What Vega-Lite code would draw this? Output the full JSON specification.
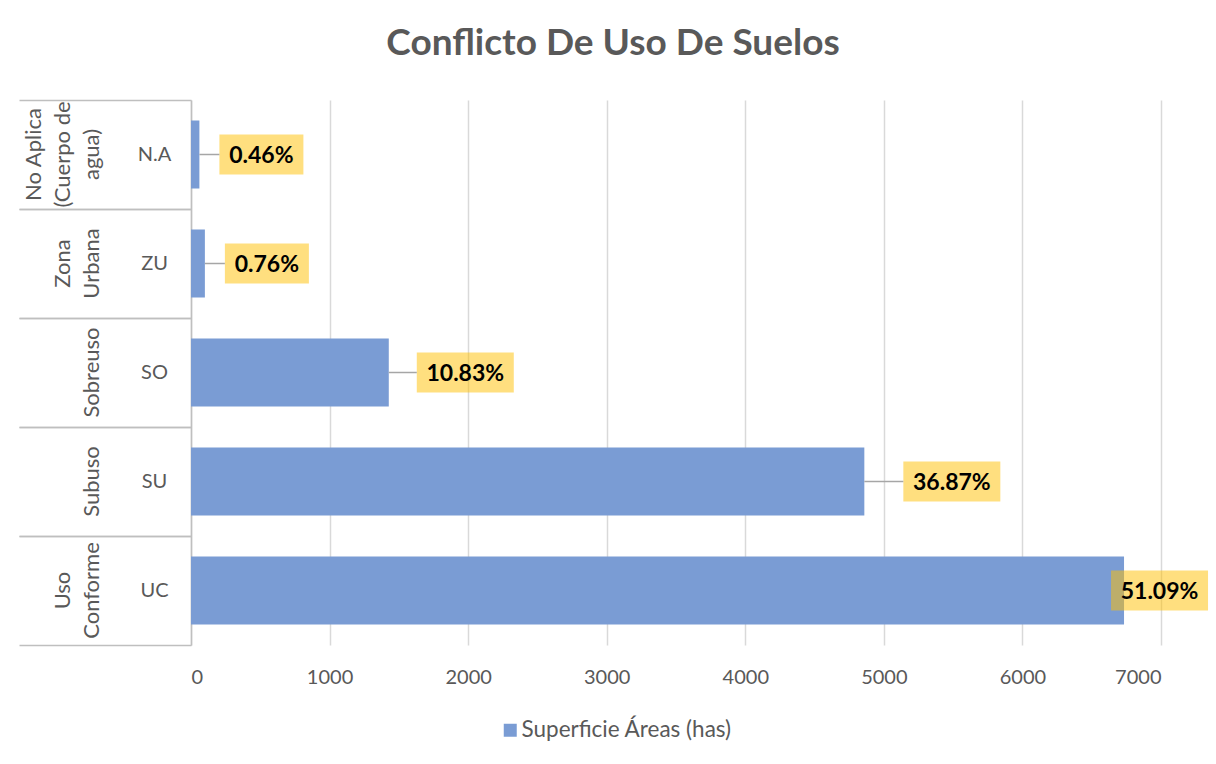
{
  "$schema": "https://vega.github.io/schema/vega-lite/v6.json",
  "width": 970,
  "height": 545,
  "autosize": {"type": "none"},
  "padding": {"left": 191, "top": 100, "right": 55, "bottom": 119},
  "background": "white",
  "config": {"view": {"stroke": null}, "font": "Lato"},
  "title": {"text": "Conflicto De Uso De Suelos", "font": "Lato", "fontSize": 37, "fontWeight": "bold", "color": "#595959", "anchor": "middle", "frame": "group", "dx": -63, "offset": 36},
  "data": {"values": [
    {"code": "N.A", "area": 60.6, "pct": "0.46%", "serie": "Superficie Áreas (has)"},
    {"code": "ZU", "area": 100.2, "pct": "0.76%", "serie": "Superficie Áreas (has)"},
    {"code": "SO", "area": 1427.3, "pct": "10.83%", "serie": "Superficie Áreas (has)"},
    {"code": "SU", "area": 4859.1, "pct": "36.87%", "serie": "Superficie Áreas (has)"},
    {"code": "UC", "area": 6733.2, "pct": "51.09%", "serie": "Superficie Áreas (has)"}
  ]},
  "encoding": {
    "x": {"field": "area", "type": "quantitative", "scale": {"domain": [0, 7000], "nice": false},
      "axis": {"title": null, "values": [0, 1000, 2000, 3000, 4000, 5000, 6000, 7000], "format": "d", "grid": true, "gridColor": "#D9D9D9", "gridWidth": 1.5, "domain": false, "ticks": false, "labelPadding": 22, "labelFontSize": 20, "labelColor": "#595959", "labelFont": "Lato"}}
  },
  "layer": [
    {
      "mark": {"type": "bar", "color": "#7A9CD4"},
      "encoding": {
        "y": {"field": "code", "type": "nominal", "scale": {"domain": ["N.A", "ZU", "SO", "SU", "UC"], "paddingInner": 0.376, "paddingOuter": 0.188},
          "axis": {"orient": "left", "title": null, "ticks": false, "tickSize": 0, "domain": true, "domainColor": "#BFBFBF", "domainWidth": 1.5, "labelAlign": "center", "labelBaseline": "middle", "labelPadding": 37, "labelFontSize": 20, "labelColor": "#595959", "labelFont": "Lato"}},
        "color": {"field": "serie", "type": "nominal", "scale": {"range": ["#7A9CD4"]},
          "legend": {"title": null, "orient": "none", "legendX": 308, "legendY": 619, "symbolType": "square", "symbolSize": 169, "symbolStrokeWidth": 0, "labelFontSize": 22.5, "labelLimit": 400, "labelColor": "#595959", "labelFont": "Lato", "labelOffset": 0}}
      }
    },
    {
      "transform": [{"filter": {"field": "code", "oneOf": ["N.A", "ZU"]}}],
      "mark": {"type": "bar", "color": "#FFC000", "opacity": 0.5, "size": 40, "xOffset": 20, "x2Offset": 104},
      "encoding": {
        "y": {"field": "code", "type": "nominal", "scale": {"domain": ["N.A", "ZU", "SO", "SU", "UC"], "paddingInner": 0.376, "paddingOuter": 0.188},
          "axis": {"orient": "left", "title": null, "ticks": false, "domain": false, "labelAngle": 270, "labelAlign": "center", "labelBaseline": "bottom", "labelPadding": 146, "labelLineHeight": 29, "labelFontSize": 22, "labelColor": "#595959", "labelFont": "Lato", "labelOverlap": false, "labelBound": false, "labelLimit": 300,
            "labelExpr": "datum.value == 'N.A' ? ['No Aplica', '(Cuerpo de', 'agua)'] : datum.value == 'ZU' ? ['\u00a0', 'Zona', 'Urbana'] : datum.value == 'UC' ? ['\u00a0', 'Uso', 'Conforme'] : ''"}},
        "x2": {"field": "area"}
      }
    },
    {
      "transform": [{"filter": {"field": "code", "oneOf": ["SO"]}}],
      "mark": {"type": "bar", "color": "#FFC000", "opacity": 0.5, "size": 40, "xOffset": 28, "x2Offset": 125},
      "encoding": {
        "y": {"field": "code", "type": "nominal", "scale": {"domain": ["N.A", "ZU", "SO", "SU", "UC"], "paddingInner": 0.376, "paddingOuter": 0.188},
          "axis": {"orient": "left", "title": null, "labels": false, "domain": false, "ticks": true, "tickBand": "center", "tickOffset": 54.5, "tickSize": 172, "tickColor": "#BFBFBF", "tickWidth": 1.5}},
        "x2": {"field": "area"}
      }
    },
    {
      "transform": [{"filter": {"field": "code", "oneOf": ["SU"]}}],
      "mark": {"type": "bar", "color": "#FFC000", "opacity": 0.5, "size": 40, "xOffset": 39, "x2Offset": 136},
      "encoding": {
        "y": {"field": "code", "type": "nominal", "scale": {"domain": ["N.A", "ZU", "SO", "SU", "UC"], "paddingInner": 0.376, "paddingOuter": 0.188},
          "axis": {"orient": "left", "title": null, "labels": false, "domain": false, "ticks": true, "tickBand": "center", "tickOffset": -54.5, "tickSize": 172, "tickColor": "#BFBFBF", "tickWidth": 1.5}},
        "x2": {"field": "area"}
      }
    },
    {
      "transform": [{"filter": {"field": "code", "oneOf": ["UC"]}}],
      "mark": {"type": "bar", "color": "#FFC000", "opacity": 0.5, "size": 40, "xOffset": -13, "x2Offset": 84},
      "encoding": {
        "y": {"field": "code", "type": "nominal", "scale": {"domain": ["N.A", "ZU", "SO", "SU", "UC"], "paddingInner": 0.376, "paddingOuter": 0.188},
          "axis": {"orient": "left", "title": null, "ticks": false, "domain": false, "labelAngle": 270, "labelAlign": "center", "labelBaseline": "bottom", "labelPadding": 88, "labelFontSize": 22, "labelColor": "#595959", "labelFont": "Lato", "labelOverlap": false, "labelBound": false, "labelLimit": 300,
            "labelExpr": "datum.value == 'SO' ? 'Sobreuso' : datum.value == 'SU' ? 'Subuso' : ''"}},
        "x2": {"field": "area"}
      }
    },
    {
      "transform": [{"filter": {"field": "code", "oneOf": ["N.A", "ZU"]}}],
      "mark": {"type": "rule", "color": "#A6A6A6", "strokeWidth": 1.5, "x2Offset": 20},
      "encoding": {
        "y": {"field": "code", "type": "nominal", "scale": {"domain": ["N.A", "ZU", "SO", "SU", "UC"], "paddingInner": 0.376, "paddingOuter": 0.188}, "axis": null},
        "x2": {"field": "area"}
      }
    },
    {
      "transform": [{"filter": {"field": "code", "oneOf": ["SO"]}}],
      "mark": {"type": "rule", "color": "#A6A6A6", "strokeWidth": 1.5, "x2Offset": 28},
      "encoding": {
        "y": {"field": "code", "type": "nominal", "scale": {"domain": ["N.A", "ZU", "SO", "SU", "UC"], "paddingInner": 0.376, "paddingOuter": 0.188}, "axis": null},
        "x2": {"field": "area"}
      }
    },
    {
      "transform": [{"filter": {"field": "code", "oneOf": ["SU"]}}],
      "mark": {"type": "rule", "color": "#A6A6A6", "strokeWidth": 1.5, "x2Offset": 39},
      "encoding": {
        "y": {"field": "code", "type": "nominal", "scale": {"domain": ["N.A", "ZU", "SO", "SU", "UC"], "paddingInner": 0.376, "paddingOuter": 0.188}, "axis": null},
        "x2": {"field": "area"}
      }
    },
    {
      "transform": [{"filter": {"field": "code", "oneOf": ["N.A", "ZU"]}}],
      "mark": {"type": "text", "font": "Lato", "fontSize": 23, "fontWeight": "bold", "color": "#000000", "align": "center", "baseline": "middle", "dx": 62, "dy": 1},
      "encoding": {
        "y": {"field": "code", "type": "nominal", "scale": {"domain": ["N.A", "ZU", "SO", "SU", "UC"], "paddingInner": 0.376, "paddingOuter": 0.188}, "axis": null},
        "text": {"field": "pct"}
      }
    },
    {
      "transform": [{"filter": {"field": "code", "oneOf": ["SO"]}}],
      "mark": {"type": "text", "font": "Lato", "fontSize": 23, "fontWeight": "bold", "color": "#000000", "align": "center", "baseline": "middle", "dx": 76.5, "dy": 1},
      "encoding": {
        "y": {"field": "code", "type": "nominal", "scale": {"domain": ["N.A", "ZU", "SO", "SU", "UC"], "paddingInner": 0.376, "paddingOuter": 0.188}, "axis": null},
        "text": {"field": "pct"}
      }
    },
    {
      "transform": [{"filter": {"field": "code", "oneOf": ["SU"]}}],
      "mark": {"type": "text", "font": "Lato", "fontSize": 23, "fontWeight": "bold", "color": "#000000", "align": "center", "baseline": "middle", "dx": 87.5, "dy": 1},
      "encoding": {
        "y": {"field": "code", "type": "nominal", "scale": {"domain": ["N.A", "ZU", "SO", "SU", "UC"], "paddingInner": 0.376, "paddingOuter": 0.188}, "axis": null},
        "text": {"field": "pct"}
      }
    },
    {
      "transform": [{"filter": {"field": "code", "oneOf": ["UC"]}}],
      "mark": {"type": "text", "font": "Lato", "fontSize": 23, "fontWeight": "bold", "color": "#000000", "align": "center", "baseline": "middle", "dx": 35.5, "dy": 1},
      "encoding": {
        "y": {"field": "code", "type": "nominal", "scale": {"domain": ["N.A", "ZU", "SO", "SU", "UC"], "paddingInner": 0.376, "paddingOuter": 0.188}, "axis": null},
        "text": {"field": "pct"}
      }
    }
  ],
  "resolve": {"axis": {"y": "independent"}}
}
